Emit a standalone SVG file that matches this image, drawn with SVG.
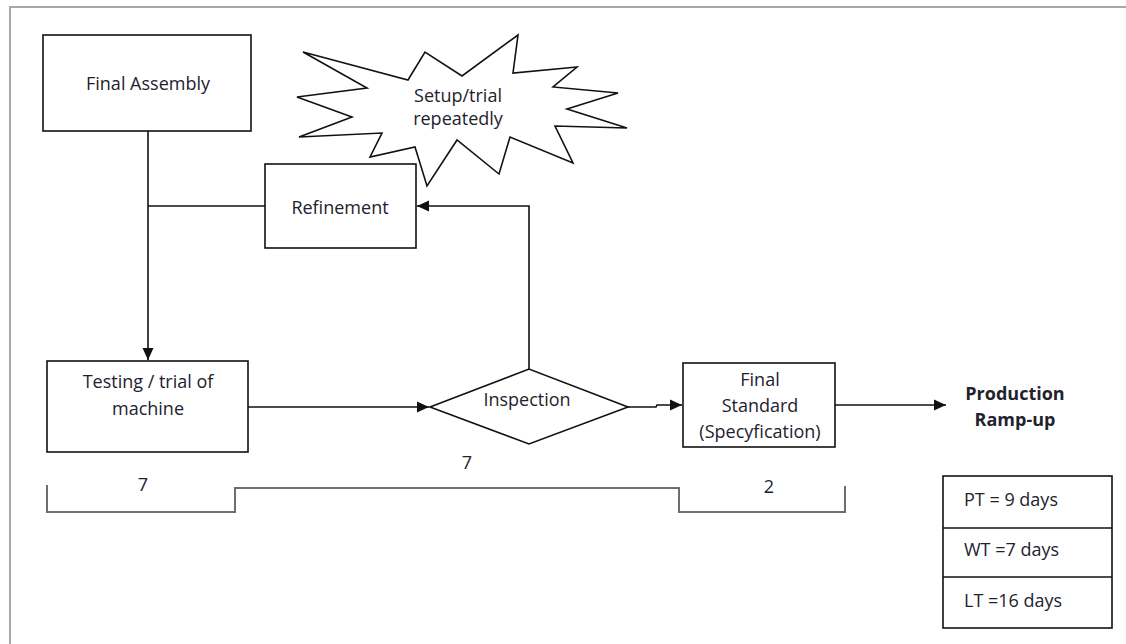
<svg xmlns="http://www.w3.org/2000/svg" width="1126" height="644" viewBox="0 0 1126 644">
<style>
.box{fill:#fff;stroke:#111;stroke-width:1.6}
.ln{fill:none;stroke:#111;stroke-width:1.6}
.br{fill:none;stroke:#6e6e6e;stroke-width:2}
.t{font-family:"Open Sans","Liberation Sans",sans-serif;font-size:18px;fill:#22222e;text-anchor:middle}
.tl{font-family:"Open Sans","Liberation Sans",sans-serif;font-size:18px;fill:#22222e}
.b{font-weight:bold}
</style>
<defs>
<marker id="ah" viewBox="0 0 12 12" refX="12" refY="6" markerWidth="12" markerHeight="12" markerUnits="userSpaceOnUse" orient="auto">
<path d="M0,0.5 L12,6 L0,11.5 z" fill="#111"/>
</marker>
</defs>
<rect width="1126" height="644" fill="#fff"/>
<path d="M10,644 V7 H1126" fill="none" stroke="#a8a8a8" stroke-width="2"/>

<g id="connectors">
<path class="ln" d="M148,131 V360" marker-end="url(#ah)"/>
<path class="ln" d="M148,206 H265"/>
<path class="ln" d="M529,369 V206 H417" marker-end="url(#ah)"/>
<path class="ln" d="M248,407 H429" marker-end="url(#ah)"/>
<path class="ln" d="M628,407 H656 L657,405 H682" marker-end="url(#ah)"/>
<path class="ln" d="M835,405 H946" marker-end="url(#ah)"/>
</g>

<g id="final-assembly">
<rect class="box" x="43" y="35" width="208" height="96"/>
<text class="t" x="148" y="90">Final Assembly</text>
</g>

<g id="setup-trial">
<polygon class="box" points="303,52 408,80 425,52 462,76 518,35 513,73 577,67 553,87 618,93 567,109 627,128 555,126 573,163 510,137 499,174 457,140 427,186 415,147 370,157 382,133 299,137 352,117 297,97 367,88"/>
<text class="t" x="458" y="102">Setup/trial</text>
<text class="t" x="458" y="125">repeatedly</text>
</g>

<g id="refinement">
<rect class="box" x="265" y="164" width="151" height="84"/>
<text class="t" x="340" y="214">Refinement</text>
</g>

<g id="testing">
<rect class="box" x="47" y="361" width="201" height="91"/>
<text class="t" x="148" y="388">Testing / trial of</text>
<text class="t" x="148" y="415">machine</text>
</g>

<g id="inspection">
<polygon class="box" points="430,407 529,369 628,407 529,444"/>
<text class="t" x="527" y="406">Inspection</text>
</g>

<g id="final-standard">
<rect class="box" x="683" y="363" width="152" height="84"/>
<text class="t" x="760" y="386">Final</text>
<text class="t" x="760" y="412">Standard</text>
<text class="t" x="760" y="438">(Specyfication)</text>
</g>

<g id="production">
<text class="t b" x="1015" y="400">Production</text>
<text class="t b" x="1015" y="426">Ramp-up</text>
</g>

<g id="timeline">
<path class="br" d="M47,485 V512 H235 V488 H679 V512 H845 V486"/>
<text class="t" x="143" y="491">7</text>
<text class="t" x="467" y="469">7</text>
<text class="t" x="769" y="493">2</text>
</g>

<g id="summary">
<rect class="box" x="943" y="476" width="169" height="152"/>
<path class="ln" d="M943,528 H1112 M943,577 H1112"/>
<text class="tl" x="964" y="506">PT = 9 days</text>
<text class="tl" x="964" y="556">WT =7 days</text>
<text class="tl" x="964" y="607">LT =16 days</text>
</g>
</svg>
